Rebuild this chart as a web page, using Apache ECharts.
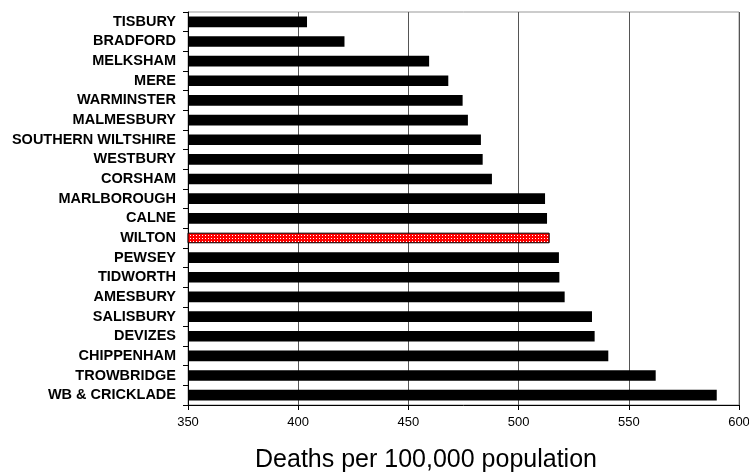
<!DOCTYPE html>
<html>
<head>
<meta charset="utf-8">
<script src="https://cdn.jsdelivr.net/npm/echarts@6/dist/echarts.min.js"></script>
<style>html,body{margin:0;padding:0;background:#fff}#c{width:749px;height:473px}</style>
</head>
<body>
<div id="c"></div>
<script>
var categories = ["TISBURY","BRADFORD","MELKSHAM","MERE","WARMINSTER","MALMESBURY","SOUTHERN WILTSHIRE","WESTBURY","CORSHAM","MARLBOROUGH","CALNE","WILTON","PEWSEY","TIDWORTH","AMESBURY","SALISBURY","DEVIZES","CHIPPENHAM","TROWBRIDGE","WB & CRICKLADE"];
var values = [404, 421, 459.4, 468.1, 474.6, 477, 482.9, 483.7, 487.9, 512, 512.9, 514.1, 518.3, 518.5, 520.9, 533.3, 534.5, 540.7, 562.2, 589.9];
var highlight = "WILTON";
var xTicks = [350, 400, 450, 500, 550, 600];
var xTitle = "Deaths per 100,000 population";

var pc = document.createElement('canvas');
pc.width = 3; pc.height = 3;
var g = pc.getContext('2d');
g.fillStyle = '#ff0000'; g.fillRect(0,0,3,3);
g.fillStyle = '#ffffff'; g.fillRect(1,1,1,1);

var data = categories.map(function(c, i){
  if (c === highlight) {
    return {value: values[i], itemStyle: {color: {image: pc, repeat: 'repeat'}, borderColor: '#000', borderWidth: 1}};
  }
  return values[i];
});

var chart = echarts.init(document.getElementById('c'), null, {renderer: 'canvas'});
chart.setOption({
  animation: false,
  grid: {left: 188, right: 10, top: 12, bottom: 68, show: true, borderColor: '#999', borderWidth: 1, containLabel: false, outerBoundsMode: 'none'},
  xAxis: {
    type: 'value', min: xTicks[0], max: xTicks[xTicks.length-1], interval: 50,
    axisLine: {show: true, lineStyle: {color: '#000', width: 1}},
    axisTick: {show: true, length: 5, lineStyle: {color: '#000'}},
    axisLabel: {color: '#000', fontSize: 13, fontFamily: 'Liberation Sans, Arial, sans-serif', margin: 11},
    splitLine: {show: true, lineStyle: {color: '#555', width: 1}},
    name: xTitle, nameLocation: 'middle', nameGap: 43,
    nameTextStyle: {fontSize: 25, color: '#000', fontFamily: 'Liberation Sans, Arial, sans-serif', padding: [0, 75, 0, 0]}
  },
  yAxis: {
    type: 'category', data: categories, inverse: true,
    axisLine: {show: true, lineStyle: {color: '#000', width: 1}},
    axisTick: {show: true, length: 5, lineStyle: {color: '#000'}},
    axisLabel: {color: '#000', fontSize: 14.5, fontWeight: 'bold', fontFamily: 'Liberation Sans, Arial, sans-serif', margin: 12, interval: 0},
    splitLine: {show: false}
  },
  series: [{
    type: 'bar', data: data, barWidth: '54%',
    itemStyle: {color: '#000'}
  }]
});
</script>
</body>
</html>
